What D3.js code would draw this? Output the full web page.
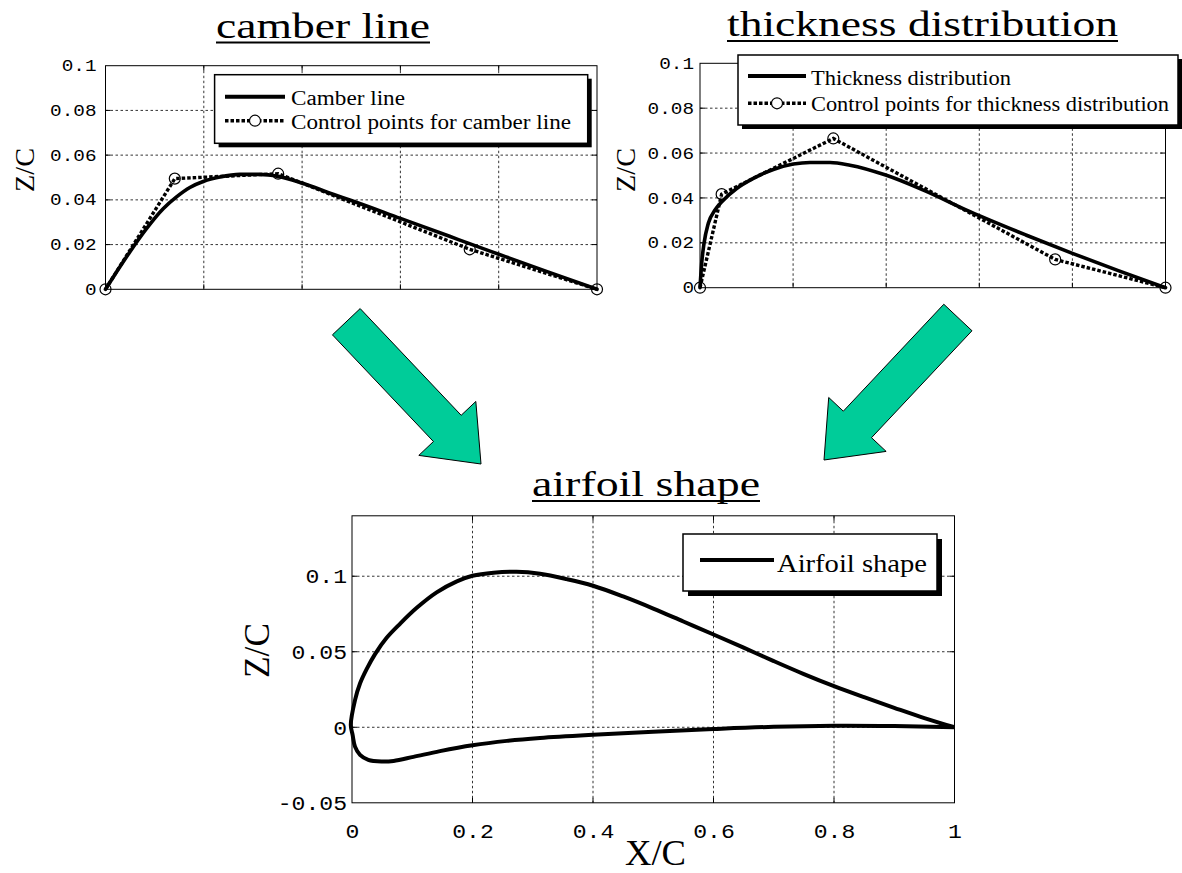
<!DOCTYPE html>
<html>
<head>
<meta charset="utf-8">
<script src="https://cdn.jsdelivr.net/npm/d3@7"></script>
<style>
  body { margin: 0; background: #fff; }
  svg { display: block; }
</style>
</head>
<body>
<svg id="fig" width="1182" height="873"></svg>
<script>
// ---- camber line and its control polygon ----
const camberX = [0, 0.0224, 0.0495, 0.0834, 0.1173, 0.1445, 0.1716, 0.2, 0.2326, 0.2733, 0.314, 0.3513, 0.4, 0.463, 0.5, 0.6, 0.7, 0.742, 0.8, 0.9, 1];
const camberZ = [0, 0.0077, 0.0167, 0.0271, 0.036, 0.0413, 0.0455, 0.0483, 0.0502, 0.0514, 0.0514, 0.0505, 0.0475, 0.0425, 0.0397, 0.0317, 0.0237, 0.0203, 0.0157, 0.0078, 0];
const camberCtrlX = [0, 0.141, 0.3513, 0.741, 1];
const camberCtrlZ = [0, 0.0495, 0.0517, 0.0179, 0];

// ---- thickness distribution and its control polygon ----
const thickX = [0, 0.0036, 0.0086, 0.0179, 0.0322, 0.0501, 0.0788, 0.1146, 0.1575, 0.2005, 0.2363, 0.2793, 0.3222, 0.3989, 0.48, 0.58, 0.7, 0.8, 0.9, 1];
const thickZ = [0, 0.0108, 0.0197, 0.0287, 0.0346, 0.039, 0.0442, 0.0487, 0.0527, 0.0551, 0.0558, 0.0558, 0.0546, 0.0502, 0.0435, 0.0339, 0.0235, 0.0153, 0.0075, 0];
const thickCtrlX = [0, 0.0465, 0.2864, 0.763, 1];
const thickCtrlZ = [0, 0.0417, 0.0665, 0.0126, 0];

// ---- airfoil surfaces ----
const upperX = [-0.002, 0.005, 0.0133, 0.0243, 0.038, 0.0575, 0.0797, 0.107, 0.1405, 0.174, 0.2, 0.235, 0.273, 0.312, 0.356, 0.4, 0.45, 0.5, 0.55, 0.6, 0.65, 0.7, 0.75, 0.8, 0.85, 0.9, 0.95, 1];
const upperZ = [0.0015, 0.018, 0.029, 0.0385, 0.0483, 0.0592, 0.0685, 0.0789, 0.0893, 0.0966, 0.1003, 0.1023, 0.1029, 0.1016, 0.0981, 0.0937, 0.0866, 0.0786, 0.070, 0.0614, 0.0527, 0.0438, 0.0352, 0.0272, 0.0199, 0.0129, 0.0061, 0];
const lowerX = [-0.002, 0.001, 0.005, 0.0133, 0.027, 0.049, 0.069, 0.102, 0.146, 0.2, 0.257, 0.312, 0.4, 0.5, 0.6, 0.7, 0.8, 0.9, 1];
const lowerZ = [0.0015, -0.005, -0.0128, -0.0183, -0.0216, -0.0227, -0.0223, -0.0196, -0.0158, -0.0119, -0.009, -0.0071, -0.005, -0.003, -0.0012, 0.0003, 0.001, 0.0008, 0];

// ---- ticks and labels ----
const topYTicks = [0, 0.02, 0.04, 0.06, 0.08, 0.1];
const topYTickLabels = ["0", "0.02", "0.04", "0.06", "0.08", "0.1"];
const topGridY = [0.02, 0.04, 0.06, 0.08];
const gridX = [0.2, 0.4, 0.6, 0.8];
const bottomYTicks = [-0.05, 0, 0.05, 0.1];
const bottomYTickLabels = ["-0.05", "0", "0.05", "0.1"];
const bottomGridY = [0, 0.05, 0.1];
const bottomXTicks = [0, 0.2, 0.4, 0.6, 0.8, 1];
const bottomXTickLabels = ["0", "0.2", "0.4", "0.6", "0.8", "1"];

const titles = ["camber line", "thickness distribution", "airfoil shape"];
const camberLegend = ["Camber line", "Control points for camber line"];
const thickLegend = ["Thickness distribution", "Control points for thickness distribution"];
const airfoilLegend = ["Airfoil shape"];
const zLabel = "Z/C";
const xLabel = "X/C";

const SERIF = "'Liberation Serif', 'Times New Roman', Times, serif";
const MONO = "'Liberation Mono', 'Courier New', Courier, monospace";
const ARROW_FILL = "#00cc99";

const svg = d3.select("#fig");
svg.append("rect").attr("width", 1182).attr("height", 873).attr("fill", "#fff");

// One framed plot area with dotted grid, inward ticks and a left axis
function panel(o) {
  const x = d3.scaleLinear().domain([0, 1]).range([o.left, o.right]);
  const y = d3.scaleLinear().domain(o.yDomain).range([o.bottom, o.top]);
  const g = svg.append("g");

  const grid = g.append("g").attr("stroke", "#000").attr("stroke-width", 0.8)
    .attr("stroke-dasharray", "2.5,2.5");
  grid.selectAll("line.gx").data(gridX).join("line").attr("class", "gx")
    .attr("x1", d => x(d)).attr("x2", d => x(d))
    .attr("y1", o.top).attr("y2", o.bottom);
  grid.selectAll("line.gy").data(o.gridY).join("line").attr("class", "gy")
    .attr("x1", o.left).attr("x2", o.right)
    .attr("y1", d => y(d)).attr("y2", d => y(d));

  // inward tick marks on all four sides
  const tk = 5;
  const ticks = g.append("g").attr("stroke", "#000").attr("stroke-width", 1);
  ticks.selectAll("line.tb").data(gridX).join("line").attr("class", "tb")
    .attr("x1", d => x(d)).attr("x2", d => x(d)).attr("y1", o.bottom).attr("y2", o.bottom - tk);
  ticks.selectAll("line.tt").data(gridX).join("line").attr("class", "tt")
    .attr("x1", d => x(d)).attr("x2", d => x(d)).attr("y1", o.top).attr("y2", o.top + tk);
  ticks.selectAll("line.tl").data(o.gridY).join("line").attr("class", "tl")
    .attr("x1", o.left).attr("x2", o.left + tk).attr("y1", d => y(d)).attr("y2", d => y(d));
  ticks.selectAll("line.tr").data(o.gridY).join("line").attr("class", "tr")
    .attr("x1", o.right).attr("x2", o.right - tk).attr("y1", d => y(d)).attr("y2", d => y(d));

  g.append("rect")
    .attr("x", o.left).attr("y", o.top)
    .attr("width", o.right - o.left).attr("height", o.bottom - o.top)
    .attr("fill", "none").attr("stroke", "#000").attr("stroke-width", 1);

  // left axis labels
  const ax = d3.axisLeft(y).tickValues(o.yTicks)
    .tickFormat((d, i) => o.yTickLabels[i]).tickSize(0).tickPadding(o.yPad / o.tickSx);
  const axg = g.append("g").attr("transform", `translate(${o.left},0)`).call(ax);
  axg.select(".domain").remove();
  axg.selectAll("text")
    .attr("font-family", MONO).attr("font-size", o.tickSize)
    .attr("fill", "#000")
    .attr("transform", `scale(${o.tickSx},1)`);

  return { x, y, g };
}

function drawCurve(p, X, Z, width) {
  const idx = d3.range(X.length);
  p.g.append("path")
    .attr("d", d3.line().x(i => p.x(X[i])).y(i => p.y(Z[i])).curve(d3.curveMonotoneX)(idx))
    .attr("fill", "none").attr("stroke", "#000").attr("stroke-width", width)
    .attr("stroke-linejoin", "round").attr("stroke-linecap", "round");
}

function drawControl(p, X, Z) {
  const idx = d3.range(X.length);
  p.g.append("path")
    .attr("d", d3.line().x(i => p.x(X[i])).y(i => p.y(Z[i]))(idx))
    .attr("fill", "none").attr("stroke", "#000").attr("stroke-width", 3.4)
    .attr("stroke-dasharray", "3.5,2");
  p.g.selectAll("circle.cp").data(idx).join("circle").attr("class", "cp")
    .attr("cx", i => p.x(X[i])).attr("cy", i => p.y(Z[i])).attr("r", 5.5)
    .attr("fill", "none").attr("stroke", "#000").attr("stroke-width", 1.2);
}

function legendBox(x0, y0, x1, y1, sh) {
  svg.append("rect").attr("x", x0 + sh).attr("y", y0 + sh)
    .attr("width", x1 - x0).attr("height", y1 - y0).attr("fill", "#000");
  svg.append("rect").attr("x", x0).attr("y", y0)
    .attr("width", x1 - x0).attr("height", y1 - y0)
    .attr("fill", "#fff").attr("stroke", "#000").attr("stroke-width", 1.5);
}

function fitText(txt, x, y, size, len, anchor) {
  return svg.append("text").attr("x", x).attr("y", y)
    .attr("font-family", SERIF).attr("font-size", size).attr("fill", "#000")
    .attr("text-anchor", anchor || "start")
    .attr("textLength", len).attr("lengthAdjust", "spacingAndGlyphs")
    .text(txt);
}

function legendSolid(x0, x1, y, w) {
  svg.append("line").attr("x1", x0).attr("x2", x1).attr("y1", y).attr("y2", y)
    .attr("stroke", "#000").attr("stroke-width", w);
}
function legendDashed(x0, x1, y) {
  svg.append("line").attr("x1", x0).attr("x2", x1).attr("y1", y).attr("y2", y)
    .attr("stroke", "#000").attr("stroke-width", 3.4).attr("stroke-dasharray", "3.5,2");
  svg.append("circle").attr("cx", (x0 + x1) / 2).attr("cy", y).attr("r", 5.5)
    .attr("fill", "#fff").attr("stroke", "#000").attr("stroke-width", 1.2);
}

function title(txt, x0, x1, base) {
  fitText(txt, x0, base, 36, x1 - x0);
  svg.append("line").attr("x1", x0).attr("x2", x1)
    .attr("y1", base + 5).attr("y2", base + 5)
    .attr("stroke", "#000").attr("stroke-width", 2);
}

function zLabelAt(bx, cy, size, len) {
  svg.append("text").attr("transform", `translate(${bx},${cy}) rotate(-90)`)
    .attr("font-family", SERIF).attr("font-size", size).attr("fill", "#000")
    .attr("text-anchor", "middle")
    .attr("textLength", len).attr("lengthAdjust", "spacingAndGlyphs")
    .text(zLabel);
}

// block arrow from a tail centre to a tip
function arrow(tx, ty, px, py, sw, hw, hl) {
  const dx = px - tx, dy = py - ty, L = Math.hypot(dx, dy);
  const ux = dx / L, uy = dy / L, nx = -uy, ny = ux;
  const bx = px - ux * hl, by = py - uy * hl;
  const pts = [
    [tx + nx * sw / 2, ty + ny * sw / 2],
    [bx + nx * sw / 2, by + ny * sw / 2],
    [bx + nx * hw / 2, by + ny * hw / 2],
    [px, py],
    [bx - nx * hw / 2, by - ny * hw / 2],
    [bx - nx * sw / 2, by - ny * sw / 2],
    [tx - nx * sw / 2, ty - ny * sw / 2]
  ];
  svg.append("polygon").attr("points", pts.map(p => p.join(",")).join(" "))
    .attr("fill", ARROW_FILL).attr("stroke", "#000").attr("stroke-width", 1)
    .attr("stroke-linejoin", "miter");
}

// ===== camber line panel =====
const pc = panel({
  left: 105.5, right: 597, top: 65.7, bottom: 289.3, yDomain: [0, 0.1],
  gridY: topGridY, yTicks: topYTicks, yTickLabels: topYTickLabels,
  tickSize: 16, tickSx: 1.21, yPad: 9
});
drawCurve(pc, camberX, camberZ, 3.6);
drawControl(pc, camberCtrlX, camberCtrlZ);
legendBox(214.6, 74.7, 587.7, 143.3, 4);
legendSolid(225, 285, 96.7, 4);
legendDashed(225, 285, 120.7);
fitText(camberLegend[0], 291, 105, 20, 114);
fitText(camberLegend[1], 291, 128.5, 20, 280);
title(titles[0], 216, 430, 37.5);
zLabelAt(34, 170, 28, 44);

// ===== thickness distribution panel =====
const pt = panel({
  left: 700, right: 1165.5, top: 63.3, bottom: 287.7, yDomain: [0, 0.1],
  gridY: topGridY, yTicks: topYTicks, yTickLabels: topYTickLabels,
  tickSize: 16, tickSx: 1.21, yPad: 6
});
drawCurve(pt, thickX, thickZ, 3.6);
drawControl(pt, thickCtrlX, thickCtrlZ);
legendBox(738, 55, 1178, 125, 4);
legendSolid(748, 806, 76, 4);
legendDashed(748, 806, 103.3);
fitText(thickLegend[0], 811, 84.5, 20, 200);
fitText(thickLegend[1], 811, 110.5, 20, 358);
title(titles[1], 727, 1118, 36);
zLabelAt(635, 170, 28, 44);

// ===== airfoil shape panel =====
const pa = panel({
  left: 352, right: 954.5, top: 515.8, bottom: 802.8, yDomain: [-0.05, 0.14],
  gridY: bottomGridY, yTicks: bottomYTicks, yTickLabels: bottomYTickLabels,
  tickSize: 21, tickSx: 1.1, yPad: 5
});
// bottom axis labels
const xax = d3.axisBottom(pa.x).tickValues(bottomXTicks)
  .tickFormat((d, i) => bottomXTickLabels[i]).tickSize(0);
const xg = pa.g.append("g").attr("transform", `translate(0,${802.8})`).call(xax);
xg.select(".domain").remove();
xg.selectAll("text")
  .attr("font-family", MONO).attr("font-size", 21).attr("fill", "#000")
  .attr("dy", null).attr("y", 35.5).attr("x", 0)
  .attr("text-anchor", "middle")
  .attr("transform", "scale(1.1,1)");

// closed outline: upper surface from trailing edge to nose, then lower back
const loop = [];
for (let i = upperX.length - 1; i >= 0; i--) loop.push([upperX[i], upperZ[i]]);
for (let i = 1; i < lowerX.length; i++) loop.push([lowerX[i], lowerZ[i]]);
pa.g.append("path")
  .attr("d", d3.line().x(d => pa.x(d[0])).y(d => pa.y(d[1])).curve(d3.curveCatmullRom.alpha(0.5))(loop))
  .attr("fill", "none").attr("stroke", "#000").attr("stroke-width", 4)
  .attr("stroke-linejoin", "round");

legendBox(683, 534, 937, 591, 5);
legendSolid(700, 774, 560, 4);
fitText(airfoilLegend[0], 777, 572, 25, 150);
title(titles[2], 532, 760, 496);
zLabelAt(269, 650.5, 36, 55);
fitText(xLabel, 655.5, 865, 36, 61, "middle");

// ===== arrows from the two inputs down to the airfoil =====
arrow(346.3, 321.7, 481, 464, 38.2, 78.5, 49);
arrow(957.9, 317.5, 824, 460, 38.7, 78.8, 48.8);
</script>
</body>
</html>
